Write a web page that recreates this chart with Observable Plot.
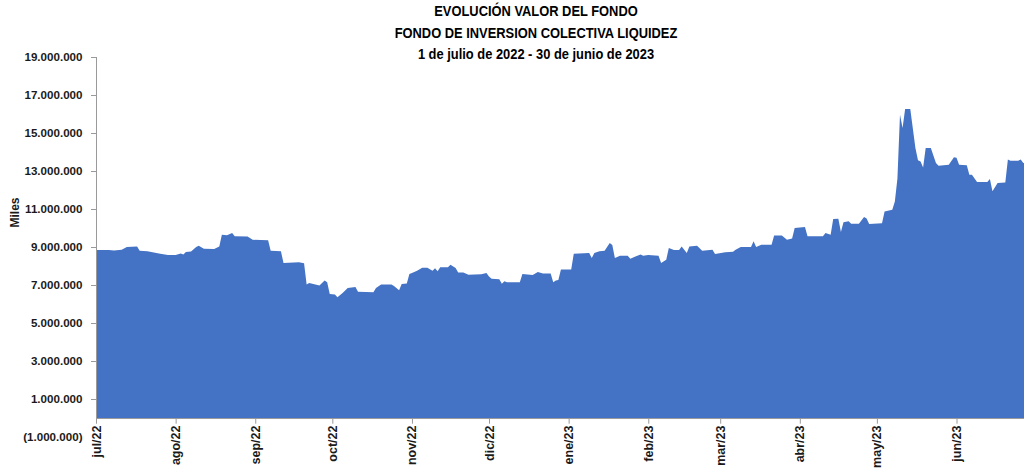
<!DOCTYPE html>
<html>
<head>
<meta charset="utf-8">
<script src="https://cdn.jsdelivr.net/npm/d3@7"></script>
<script src="https://cdn.jsdelivr.net/npm/@observablehq/plot@0.6"></script>
<style>
  html, body { margin: 0; padding: 0; background: #fff; }
  #wrap { position: relative; width: 1024px; height: 472px; overflow: hidden; }
  #title { position: absolute; top: 1px; left: 0; width: 1072px; text-align: center;
    font-family: "Liberation Sans", Arial, sans-serif;
    font-weight: bold; font-size: 14px; line-height: 21.5px; color: #000; z-index: 2; pointer-events: none; }
  #title div { transform: scaleX(0.92); }
  #chart svg { display: block; }
</style>
</head>
<body>
<div id="wrap">
  <div id="title">
    <div>EVOLUCIÓN VALOR DEL FONDO</div>
    <div>FONDO DE INVERSION COLECTIVA LIQUIDEZ</div>
    <div>1 de julio de 2022 - 30 de junio de 2023</div>
  </div>
  <div id="chart"></div>
</div>
<script>
const dates = ["2022-07-01","2022-07-06","2022-07-08","2022-07-11","2022-07-13","2022-07-17","2022-07-18","2022-07-21","2022-07-24","2022-07-26","2022-07-29",
"2022-08-01","2022-08-03","2022-08-04","2022-08-05","2022-08-07","2022-08-09","2022-08-10","2022-08-12","2022-08-16","2022-08-18","2022-08-19","2022-08-21","2022-08-23","2022-08-24","2022-08-29","2022-08-31",
"2022-09-06","2022-09-07","2022-09-11","2022-09-12","2022-09-18","2022-09-20","2022-09-21","2022-09-22","2022-09-26","2022-09-28","2022-09-29","2022-09-30",
"2022-10-02","2022-10-03","2022-10-05","2022-10-07","2022-10-10","2022-10-11","2022-10-17","2022-10-18","2022-10-20","2022-10-24","2022-10-25","2022-10-27","2022-10-28","2022-10-30","2022-10-31",
"2022-11-01","2022-11-03","2022-11-05","2022-11-07","2022-11-09","2022-11-10","2022-11-11","2022-11-12","2022-11-15","2022-11-16","2022-11-18","2022-11-19","2022-11-21","2022-11-23","2022-11-28","2022-11-30",
"2022-12-01","2022-12-02","2022-12-05","2022-12-06","2022-12-07","2022-12-08","2022-12-13","2022-12-14","2022-12-18","2022-12-20","2022-12-22","2022-12-25","2022-12-26","2022-12-27","2022-12-28","2022-12-29",
"2023-01-02","2023-01-03","2023-01-09","2023-01-10","2023-01-11","2023-01-13","2023-01-15","2023-01-17","2023-01-18","2023-01-19","2023-01-21","2023-01-24","2023-01-25","2023-01-27","2023-01-29","2023-01-30",
"2023-02-01","2023-02-05","2023-02-06","2023-02-08","2023-02-09","2023-02-11","2023-02-13","2023-02-14","2023-02-16","2023-02-17","2023-02-20","2023-02-22","2023-02-26","2023-02-27",
"2023-03-03","2023-03-06","2023-03-07","2023-03-09","2023-03-13","2023-03-14","2023-03-15","2023-03-17","2023-03-21","2023-03-22","2023-03-25","2023-03-27","2023-03-29","2023-03-30",
"2023-04-03","2023-04-04","2023-04-10","2023-04-11","2023-04-13","2023-04-14","2023-04-16","2023-04-17","2023-04-18","2023-04-20","2023-04-21","2023-04-24","2023-04-26","2023-04-27","2023-04-28",
"2023-05-03","2023-05-04","2023-05-07","2023-05-08","2023-05-09","2023-05-10","2023-05-11","2023-05-12","2023-05-14","2023-05-16","2023-05-17","2023-05-18","2023-05-19","2023-05-20","2023-05-22","2023-05-24","2023-05-25","2023-05-29","2023-05-31",
"2023-06-01","2023-06-02","2023-06-05","2023-06-06","2023-06-07","2023-06-09","2023-06-13","2023-06-14","2023-06-15","2023-06-17","2023-06-20","2023-06-21","2023-06-22","2023-06-25","2023-06-26","2023-06-27","2023-06-30"];

const valuesMillions = [8.84,8.84,8.82,8.86,9.00,9.02,8.80,8.77,8.70,8.65,8.58,
8.58,8.66,8.60,8.74,8.76,9.00,9.07,8.91,8.90,9.03,9.65,9.62,9.74,9.56,9.55,9.38,
9.35,8.80,8.77,8.16,8.20,8.15,7.02,7.10,6.98,7.24,7.15,6.53,
6.50,6.35,6.58,6.84,6.90,6.65,6.62,6.84,7.02,7.02,6.95,6.72,7.05,7.08,7.58,
7.63,7.75,7.91,7.91,7.75,7.88,7.72,7.93,7.93,8.07,7.90,7.66,7.66,7.54,7.56,7.63,
7.45,7.33,7.30,7.07,7.20,7.14,7.14,7.58,7.53,7.68,7.60,7.60,7.14,7.24,7.26,7.81,
7.81,8.65,8.68,8.42,8.68,8.77,8.80,9.21,9.10,8.42,8.54,8.54,8.38,8.50,8.61,8.54,
8.58,8.54,8.16,8.33,8.95,8.84,8.84,9.03,8.68,9.03,9.07,8.80,8.86,8.63,
8.72,8.75,8.86,9.00,9.00,9.30,9.00,9.12,9.12,9.61,9.61,9.38,9.45,10.00,
10.05,9.56,9.56,9.74,9.65,10.47,10.49,9.79,10.30,10.35,10.23,10.23,10.58,10.50,10.21,
10.25,10.87,10.96,11.40,12.60,15.96,15.26,16.26,16.26,14.21,13.56,13.50,13.19,14.21,14.21,13.42,13.28,13.33,13.72,
13.70,13.33,13.30,12.80,12.80,12.42,12.42,12.58,11.93,12.37,12.40,13.60,13.54,13.54,13.60,13.42,13.42];

const monthTicks = ["2022-07-01","2022-08-01","2022-09-01","2022-10-01","2022-11-01","2022-12-01","2023-01-01","2023-02-01","2023-03-01","2023-04-01","2023-05-01","2023-06-01"];
const monthLabels = ["jul/22","ago/22","sep/22","oct/22","nov/22","dic/22","ene/23","feb/23","mar/23","abr/23","may/23","jun/23"];
const yTicks = [-1000000,1000000,3000000,5000000,7000000,9000000,11000000,13000000,15000000,17000000,19000000];
const yLabel = "Miles";

const parse = d3.utcParse("%Y-%m-%d");
const series = dates.map((d, i) => ({date: parse(d), value: valuesMillions[i] * 1e6}));
const months = monthTicks.map((d, i) => ({date: parse(d), label: monthLabels[i]}));

const loc = d3.formatLocale({decimal: ",", thousands: ".", grouping: [3], currency: ["", ""]});
const f = loc.format(",.0f");
const fmt = v => v < 0 ? `(${f(-v)})` : f(v);

const sans = "Liberation Sans, Arial, sans-serif";
const axisGray = "#9a9a9a";

const chart = Plot.plot({
  width: 1024,
  height: 472,
  marginLeft: 96,
  marginRight: -7,
  marginTop: 57,
  marginBottom: 35,
  style: {fontFamily: sans, background: "transparent", overflow: "hidden"},
  x: {type: "utc", domain: [parse("2022-07-01"), parse("2023-06-30")], axis: null},
  y: {domain: [-1000000, 19000000], axis: null},
  marks: [
    Plot.areaY(series, {x: "date", y: "value", fill: "#4472C4", curve: "linear"}),
    Plot.ruleY([0], {stroke: axisGray, strokeWidth: 1}),
    Plot.ruleX([parse("2022-07-01")], {y1: 0, y2: 19000000, stroke: axisGray, strokeWidth: 1}),
    Plot.axisY(yTicks.filter(v => v > 0), {tickSize: 5, tickFormat: () => "", stroke: axisGray, label: null}),
    Plot.axisY(yTicks, {tickSize: 0, tickPadding: 14, tickFormat: fmt, fontWeight: "bold", fontSize: 11.6, fill: "#1a1a1a", label: null}),
    Plot.ruleX(months, {x: "date", y1: 0, y2: -300000, stroke: axisGray, strokeWidth: 1}),
    Plot.text(months, {x: "date", y: 0, text: "label", rotate: -90, textAnchor: "end", dy: 7, fontWeight: "bold", fontSize: 12.5, fill: "#1a1a1a"}),
    Plot.text([yLabel], {frameAnchor: "left", dx: -81, dy: -20, rotate: -90, fontWeight: "bold", fontSize: 12, fill: "#1a1a1a"})
  ]
});
document.getElementById("chart").appendChild(chart);
</script>
</body>
</html>
